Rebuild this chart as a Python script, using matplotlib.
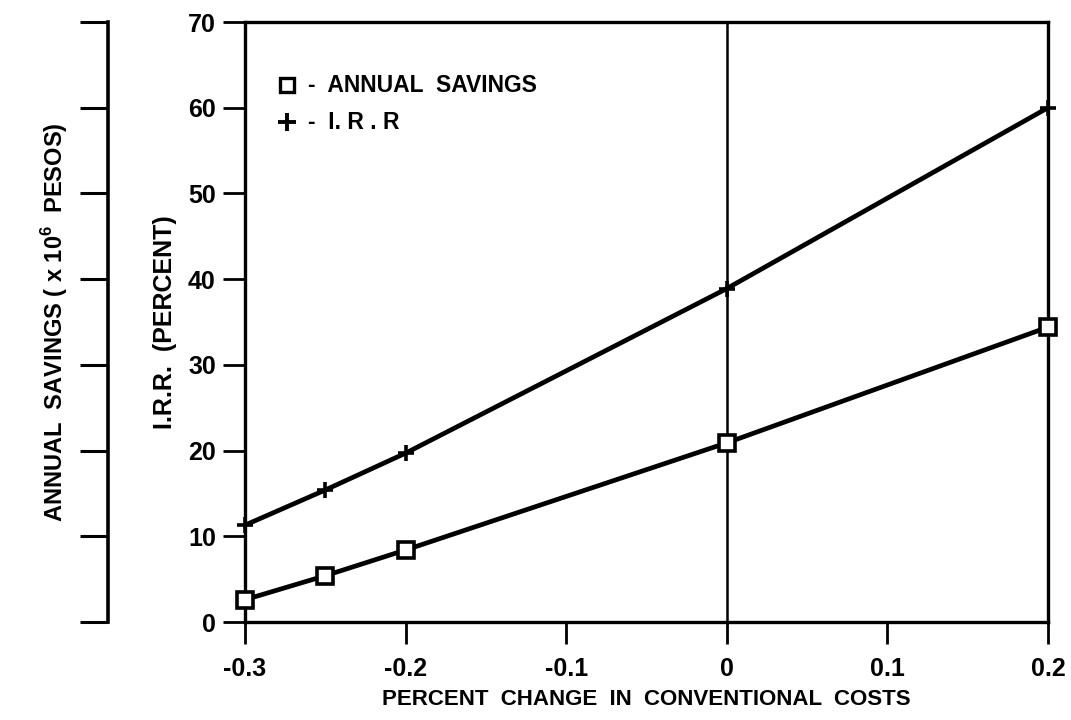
"""
Sensitivity of annual savings and I.R.R. to the change in conventional costs.
"""

import matplotlib
matplotlib.use("Agg")
import matplotlib.pyplot as plt

# -- Data ----------------------------------------------------------------------
COST_CHANGE    = [-0.3, -0.25, -0.2, 0.0, 0.2]
ANNUAL_SAVINGS = [2.6, 5.4, 8.4, 20.9, 34.4]
IRR            = [11.3, 15.4, 19.7, 38.9, 60.0]

X_TICKS = [-0.3, -0.2, -0.1, 0.0, 0.1, 0.2]
X_LABELS = ["-0.3", "-0.2", "-0.1", "0", "0.1", "0.2"]
Y_TICKS = [0, 10, 20, 30, 40, 50, 60, 70]

# -- Styling -------------------------------------------------------------------
plt.rcParams["font.family"] = ["Liberation Sans", "DejaVu Sans"]
plt.rcParams["font.weight"] = "bold"
plt.rcParams["mathtext.fontset"] = "custom"
plt.rcParams["mathtext.rm"] = "Liberation Sans:bold"
plt.rcParams["mathtext.bf"] = "Liberation Sans:bold"

INK = "black"
W, H = 1071, 720


def main():
    fig = plt.figure(figsize=(W / 100, H / 100), dpi=100)
    left, right, top, bottom = 245, 1048, 22, 622
    ax = fig.add_axes([left / W, 1 - bottom / H,
                       (right - left) / W, (bottom - top) / H])

    ax.plot(COST_CHANGE, ANNUAL_SAVINGS, color=INK, lw=3.4,
            marker="s", markersize=12, markerfacecolor="white",
            markeredgewidth=2.6, zorder=3, clip_on=False)
    ax.plot(COST_CHANGE, IRR, color=INK, lw=3.4,
            marker="+", markersize=12, markeredgewidth=2.6, zorder=3,
            clip_on=False)
    ax.axvline(0, color=INK, lw=1.8, zorder=2)

    ax.set_xlim(-0.3, 0.2)
    ax.set_ylim(0, 70)
    ax.set_xticks(X_TICKS, X_LABELS)
    ax.set_yticks(Y_TICKS)
    for s in ax.spines.values():
        s.set_linewidth(2.4)
    ax.tick_params(axis="both", direction="out", length=16, width=2,
                   labelsize=18, pad=5)
    ax.tick_params(axis="x", pad=9)

    ax.set_xlabel("PERCENT  CHANGE  IN  CONVENTIONAL  COSTS",
                  fontsize=16, fontweight="bold", labelpad=6)
    ax.set_ylabel("I.R.R.  (PERCENT)", fontsize=18, fontweight="bold",
                  labelpad=8)

    # hand-drawn key in the upper-left corner
    ax.plot([0.052], [0.895], transform=ax.transAxes, marker="s",
            markersize=10, markerfacecolor="white", markeredgecolor=INK,
            markeredgewidth=2.4, linestyle="None")
    ax.plot([0.052], [0.833], transform=ax.transAxes, marker="+",
            markersize=13, markeredgecolor=INK, markeredgewidth=2.8,
            linestyle="None")
    ax.text(0.078, 0.895, "-  ANNUAL  SAVINGS", transform=ax.transAxes,
            fontsize=16.5, fontweight="bold", va="center")
    ax.text(0.078, 0.833, "-  I. R . R", transform=ax.transAxes,
            fontsize=16.5, fontweight="bold", va="center")

    # -- Annual savings scale: bare bracket on the far left --------------------
    bx = fig.add_axes([108 / W, 1 - bottom / H, 0.001, (bottom - top) / H])
    bx.set_ylim(0, 70)
    bx.set_yticks(Y_TICKS)
    bx.set_xticks([])
    bx.yaxis.set_ticklabels([])
    for name, s in bx.spines.items():
        s.set_visible(name == "left")
    bx.spines["left"].set_linewidth(2.6)
    bx.tick_params(axis="y", direction="out", length=20, width=2.2)
    bx.patch.set_visible(False)
    bx.set_ylabel(r"ANNUAL  SAVINGS ( x 10$^{6}$  PESOS)",
                  fontsize=17, fontweight="bold", labelpad=4)

    fig.savefig("out.png", dpi=100)


if __name__ == "__main__":
    main()
